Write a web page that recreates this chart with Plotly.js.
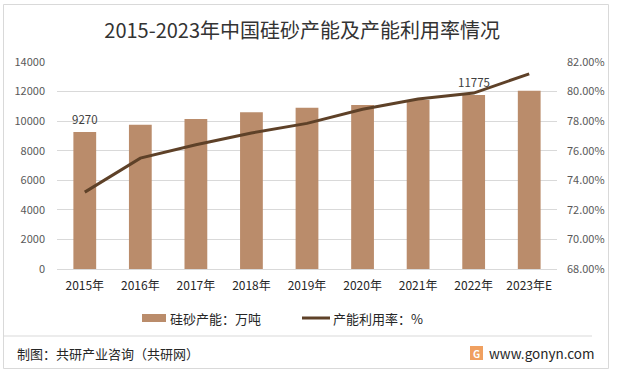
<!DOCTYPE html>
<html>
<head>
<meta charset="utf-8">
<script src="https://cdn.plot.ly/plotly-3.0.1.min.js"></script>
<style>
html,body{margin:0;padding:0;background:#fff;}
#chart{width:618px;height:377px;}
</style>
</head>
<body>
<div id="chart"></div>
<script>
const years = ["2015年","2016年","2017年","2018年","2019年","2020年","2021年","2022年","2023年E"];
const capacity = [9270, 9750, 10150, 10600, 10900, 11100, 11430, 11775, 12050];
const utilization = [0.732, 0.755, 0.764, 0.772, 0.7785, 0.788, 0.795, 0.799, 0.812];
const labelledIdx = [0, 7];
const seriesNames = ["硅砂产能：万吨", "产能利用率：%"];
const titleText = "2015-2023年中国硅砂产能及产能利用率情况";
const sourceText = "制图：共研产业咨询（共研网）";
const siteText = "www.gonyn.com";

const FONT = '"Noto Sans CJK SC", "Noto Sans", sans-serif';
const barColor = "#BA8C6B";
const lineColor = "#5E4128";

// pixel helpers for paper coords (plot area 57..557 x, 62..269 y)
const L = 57, R = 557, T = 62, B = 269;
const px = v => (v - L) / (R - L);
const py = v => (B - v) / (B - T);

const traces = [
  {type: "bar", x: years, y: capacity, name: seriesNames[0], marker: {color: barColor},
   hoverinfo: "skip", showlegend: false},
  {type: "scatter", mode: "lines", x: years, y: utilization, name: seriesNames[1], yaxis: "y2",
   line: {color: lineColor, width: 3}, hoverinfo: "skip", showlegend: false}
];

const annotations = labelledIdx.map(i => ({
  x: years[i], y: capacity[i], xref: "x", yref: "y", text: String(capacity[i]),
  showarrow: false, yshift: 13, font: {family: FONT, size: 11.5, color: "#404040"}
}));

annotations.push(
  {xref: "paper", yref: "paper", x: px(168), y: py(318), xanchor: "left", yanchor: "middle",
   text: seriesNames[0], showarrow: false, font: {family: FONT, size: 13, color: "#262626"}},
  {xref: "paper", yref: "paper", x: px(331), y: py(318), xanchor: "left", yanchor: "middle",
   text: seriesNames[1], showarrow: false, font: {family: FONT, size: 13, color: "#262626"}},
  {xref: "paper", yref: "paper", x: px(15), y: py(353), xanchor: "left", yanchor: "middle",
   text: sourceText, showarrow: false, font: {family: FONT, size: 13, color: "#262626"}},
  {xref: "paper", yref: "paper", x: px(487), y: py(353), xanchor: "left", yanchor: "middle",
   text: siteText, showarrow: false, font: {family: FONT, size: 13.5, color: "#262626"}},
  {xref: "paper", yref: "paper", x: px(476.5), y: py(353), xanchor: "center", yanchor: "middle",
   text: "<b>G</b>", showarrow: false, font: {family: FONT, size: 10, color: "#ffffff"}}
);

const shapes = [
  {type: "rect", xref: "paper", yref: "paper", x0: px(3.5), x1: px(608.5), y0: py(368.5), y1: py(4.5),
   line: {color: "#D9D9D9", width: 1}, fillcolor: "rgba(0,0,0,0)", layer: "below"},
  {type: "line", xref: "paper", yref: "paper", x0: px(4), x1: px(592), y0: py(336), y1: py(336),
   line: {color: "#D9D9D9", width: 1}},
  {type: "rect", xref: "paper", yref: "paper", x0: px(142), x1: px(166), y0: py(322), y1: py(314),
   line: {width: 0}, fillcolor: barColor},
  {type: "line", xref: "paper", yref: "paper", x0: px(302), x1: px(330), y0: py(318), y1: py(318),
   line: {color: lineColor, width: 3}},
  {type: "rect", xref: "paper", yref: "paper", x0: px(470), x1: px(483), y0: py(360), y1: py(346),
   line: {width: 0}, fillcolor: "#F0A060"}
];

const layout = {
  width: 618, height: 377,
  margin: {l: L, r: 618 - R, t: T, b: 377 - B},
  paper_bgcolor: "#ffffff", plot_bgcolor: "#ffffff",
  font: {family: FONT, color: "#595959"},
  title: {text: titleText, x: 0.489, xanchor: "center", y: 1 - 31/377, yanchor: "middle",
          font: {family: FONT, size: 20, color: "#333333"}},
  bargap: 0.59,
  showlegend: false,
  xaxis: {type: "category", showgrid: false, showline: false, zeroline: false,
          ticks: "", ticklabelstandoff: 8, tickfont: {family: FONT, size: 12, color: "#262626"}},
  yaxis: {range: [0, 14000], dtick: 2000, tickformat: "d", showgrid: true, gridcolor: "#D9D9D9", gridwidth: 1,
          zeroline: true, zerolinecolor: "#D9D9D9", showline: false, ticks: "",
          ticklabelstandoff: 11, tickfont: {family: FONT, size: 11, color: "#595959"}},
  yaxis2: {range: [0.68, 0.82], dtick: 0.02, tickformat: ".2%", overlaying: "y", side: "right",
           showgrid: false, zeroline: false, showline: false, ticks: "",
           ticklabelstandoff: 9, tickfont: {family: FONT, size: 11, color: "#595959"}},
  annotations: annotations,
  shapes: shapes
};

Plotly.newPlot("chart", traces, layout, {displayModeBar: false, staticPlot: true});
</script>
</body>
</html>
